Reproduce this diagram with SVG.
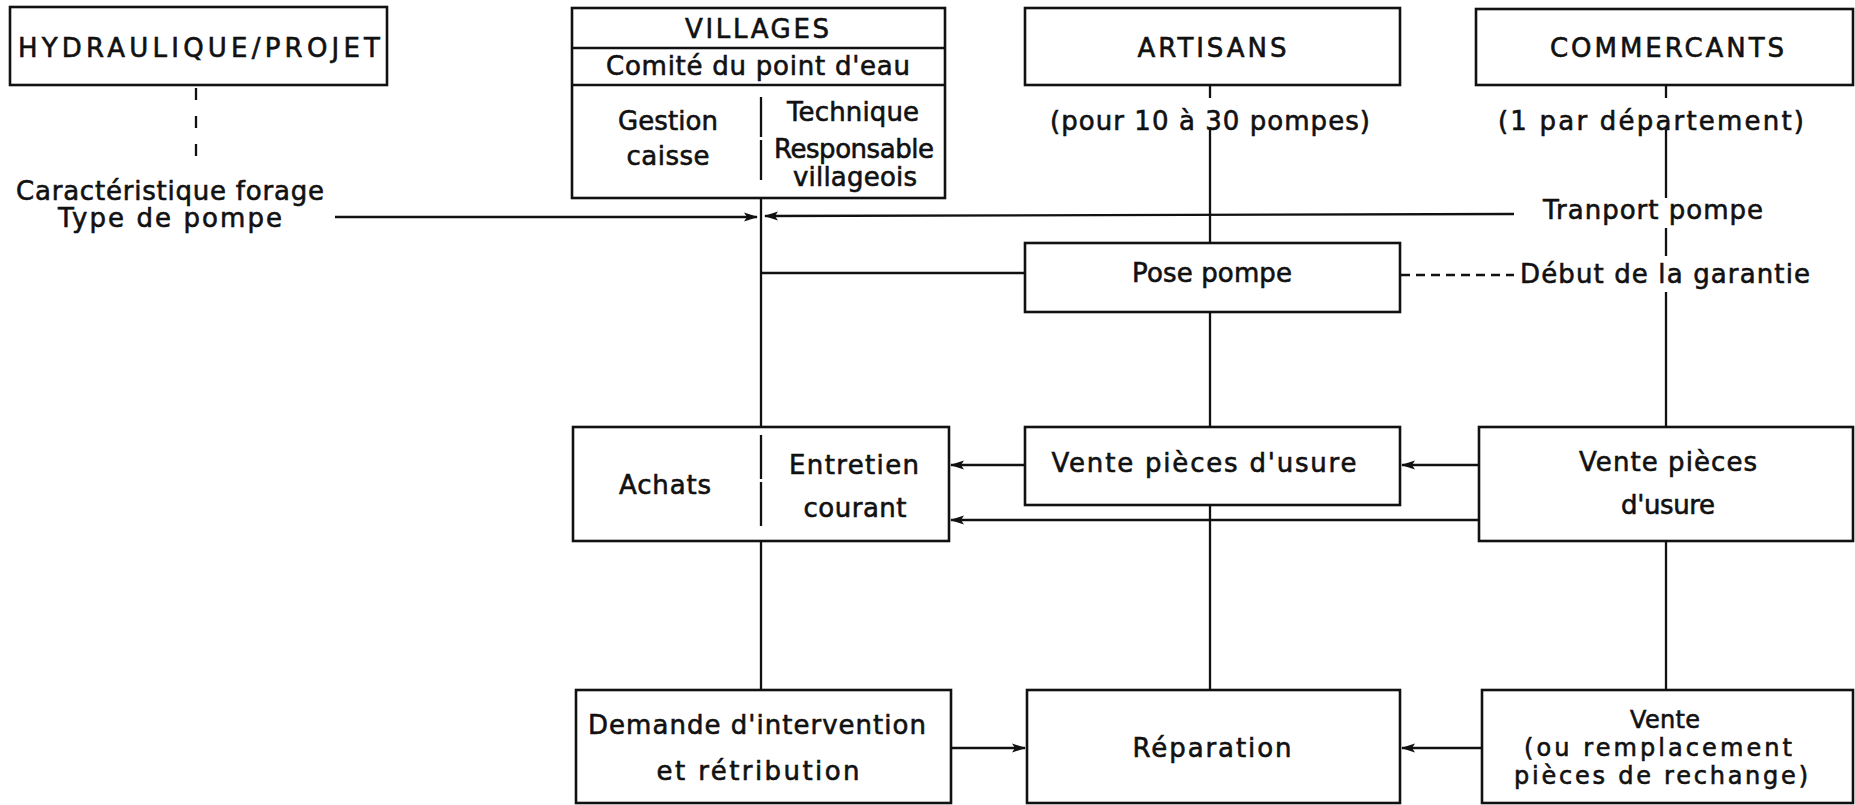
<svg xmlns="http://www.w3.org/2000/svg" width="1855" height="805" viewBox="0 0 1855 805">
<defs>
<style>
.box{fill:#fff;stroke:#111;stroke-width:2.6}
.ln{fill:none;stroke:#111;stroke-width:2.3}
.dash{fill:none;stroke:#111;stroke-width:2.3;stroke-dasharray:9 6}
.dash2{fill:none;stroke:#111;stroke-width:2.3;stroke-dasharray:12 16}
.t{font-family:"DejaVu Sans","Liberation Sans",sans-serif;font-size:26px;fill:#111;stroke:#111;stroke-width:0.6;text-anchor:middle}
.s{font-size:24px}
</style>
<marker id="ah" viewBox="0 0 14 10" refX="13" refY="5" markerWidth="14" markerHeight="10" markerUnits="userSpaceOnUse" orient="auto">
<path d="M0,0.5 L14,5 L0,9.5 L3,5 Z" fill="#111"/>
</marker>
</defs>
<rect width="1855" height="805" fill="#fff"/>

<g id="connectors">
<line class="dash2" x1="196" y1="88" x2="196" y2="165"/>
<line class="ln" x1="335" y1="217" x2="757" y2="217" marker-end="url(#ah)"/>
<line class="ln" x1="1514" y1="214" x2="765" y2="216" marker-end="url(#ah)"/>
<line class="ln" x1="761" y1="198" x2="761" y2="427"/>
<line class="ln" x1="761" y1="273" x2="1025" y2="273"/>
<line class="ln" x1="761" y1="541" x2="761" y2="690"/>
<line class="ln" x1="1210" y1="85" x2="1210" y2="98"/>
<line class="ln" x1="1210" y1="127" x2="1210" y2="243"/>
<line class="ln" x1="1210" y1="312" x2="1210" y2="427"/>
<line class="ln" x1="1210" y1="505" x2="1210" y2="690"/>
<line class="ln" x1="1666" y1="85" x2="1666" y2="98"/>
<line class="ln" x1="1666" y1="129" x2="1666" y2="198"/>
<line class="ln" x1="1666" y1="228" x2="1666" y2="256"/>
<line class="ln" x1="1666" y1="292" x2="1666" y2="427"/>
<line class="ln" x1="1666" y1="541" x2="1666" y2="690"/>
<line class="dash" x1="1401" y1="275" x2="1514" y2="275"/>
<line class="ln" x1="1479" y1="465" x2="1402" y2="465" marker-end="url(#ah)"/>
<line class="ln" x1="1025" y1="465" x2="951" y2="465" marker-end="url(#ah)"/>
<line class="ln" x1="1479" y1="520" x2="951" y2="520" marker-end="url(#ah)"/>
<line class="ln" x1="951" y1="748" x2="1025" y2="748" marker-end="url(#ah)"/>
<line class="ln" x1="1481" y1="748" x2="1402" y2="748" marker-end="url(#ah)"/>
</g>

<g id="hydraulique">
<rect class="box" x="10" y="7" width="377" height="78"/>
<text class="t" x="199" y="57" textLength="362">HYDRAULIQUE/PROJET</text>
</g>
<g id="caracteristique">
<text class="t" x="170" y="200" textLength="308">Caractéristique forage</text>
<text class="t" x="170" y="227" textLength="224">Type de pompe</text>
</g>

<g id="villages">
<rect class="box" x="572" y="8" width="373" height="190"/>
<line class="ln" x1="572" y1="48" x2="945" y2="48"/>
<line class="ln" x1="572" y1="85" x2="945" y2="85"/>
<line class="ln" x1="761" y1="97" x2="761" y2="183" stroke-dasharray="40 3"/>
<text class="t" x="757" y="38" textLength="144">VILLAGES</text>
<text class="t" x="758" y="75" textLength="304">Comité du point d'eau</text>
<text class="t" x="668" y="130" textLength="100">Gestion</text>
<text class="t" x="668" y="165" textLength="83">caisse</text>
<text class="t" x="853" y="121" textLength="132">Technique</text>
<text class="t" x="854" y="158" textLength="160">Responsable</text>
<text class="t" x="855" y="186" textLength="124">villageois</text>
</g>

<g id="artisans">
<rect class="box" x="1025" y="8" width="375" height="77"/>
<text class="t" x="1212" y="57" textLength="149">ARTISANS</text>
<text class="t" x="1210" y="130" textLength="320">(pour 10 à 30 pompes)</text>
</g>

<g id="commercants">
<rect class="box" x="1476" y="9" width="377" height="76"/>
<text class="t" x="1667" y="57" textLength="234">COMMERCANTS</text>
<text class="t" x="1651" y="130" textLength="306">(1 par département)</text>
</g>

<g id="transport">
<text class="t" x="1653" y="219" textLength="220">Tranport pompe</text>
</g>
<g id="debut-garantie">
<text class="t" x="1665" y="283" textLength="290">Début de la garantie</text>
</g>

<g id="pose-pompe">
<rect class="box" x="1025" y="243" width="375" height="69"/>
<text class="t" x="1212" y="282" textLength="160">Pose pompe</text>
</g>

<g id="achats-entretien">
<rect class="box" x="573" y="427" width="376" height="114"/>
<line class="ln" x1="761" y1="435" x2="761" y2="527" stroke-dasharray="44 3"/>
<text class="t" x="665" y="494" textLength="92">Achats</text>
<text class="t" x="854" y="474" textLength="130">Entretien</text>
<text class="t" x="855" y="517" textLength="103">courant</text>
</g>

<g id="vente-artisans">
<rect class="box" x="1025" y="427" width="375" height="78"/>
<text class="t" x="1204" y="472" textLength="305">Vente pièces d'usure</text>
</g>

<g id="vente-commercants">
<rect class="box" x="1479" y="427" width="374" height="114"/>
<text class="t" x="1668" y="471" textLength="178">Vente pièces</text>
<text class="t" x="1668" y="514" textLength="94">d'usure</text>
</g>

<g id="demande">
<rect class="box" x="576" y="690" width="375" height="113"/>
<text class="t" x="757" y="734" textLength="338">Demande d'intervention</text>
<text class="t" x="758" y="780" textLength="203">et rétribution</text>
</g>

<g id="reparation">
<rect class="box" x="1027" y="690" width="373" height="113"/>
<text class="t" x="1212" y="757" textLength="159">Réparation</text>
</g>

<g id="vente-rechange">
<rect class="box" x="1482" y="690" width="371" height="113"/>
<text class="t s" x="1665" y="728" textLength="70">Vente</text>
<text class="t s" x="1658" y="756" textLength="268">(ou remplacement</text>
<text class="t s" x="1661" y="784" textLength="294">pièces de rechange)</text>
</g>
</svg>
